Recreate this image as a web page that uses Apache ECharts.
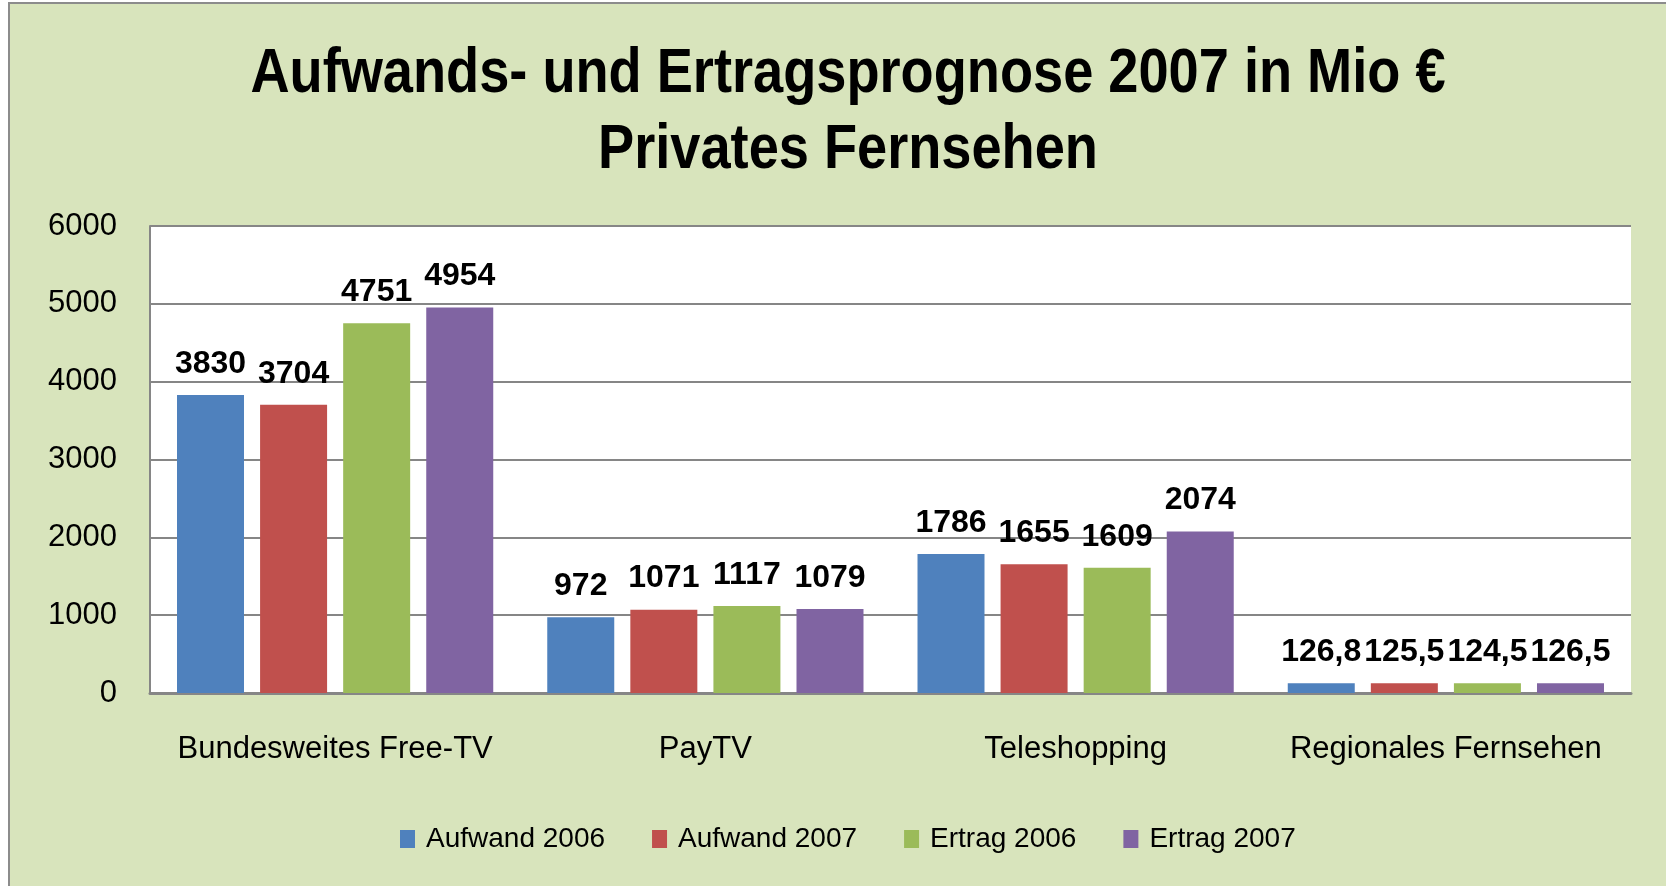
<!DOCTYPE html>
<html>
<head>
<meta charset="utf-8">
<title>Aufwands- und Ertragsprognose 2007</title>
<script src="https://cdn.jsdelivr.net/npm/echarts@6/dist/echarts.min.js"></script>
<style>
  html, body { margin: 0; padding: 0; background: #fff; }
  #chart { width: 1666px; height: 886px; }
</style>
</head>
<body>
<div id="chart"></div>
<script>
// Daten
var categories = ['Bundesweites Free-TV', 'PayTV', 'Teleshopping', 'Regionales Fernsehen'];
var seriesNames = ['Aufwand 2006', 'Aufwand 2007', 'Ertrag 2006', 'Ertrag 2007'];
var aufwand2006 = [3830, 972, 1786, 126.8];
var aufwand2007 = [3704, 1071, 1655, 125.5];
var ertrag2006 = [4751, 1117, 1609, 124.5];
var ertrag2007 = [4954, 1079, 2074, 126.5];
var yTicks = [0, 1000, 2000, 3000, 4000, 5000, 6000];

var colors = ['#4F81BD', '#C0504D', '#9BBB59', '#8064A2'];
var font = '"Liberation Sans", Arial, sans-serif';

var chart = echarts.init(document.getElementById('chart'));

function makeSeries(name, data) {
  return {
    name: name,
    type: 'bar',
    data: data,
    barWidth: 67,
    barGap: '24%',
    label: {
      show: true,
      position: 'top',
      distance: 15,
      color: '#000',
      fontFamily: font,
      fontWeight: 'bold',
      fontSize: 32,
      formatter: function (p) {
        return String(p.value).replace('.', ',');
      }
    }
  };
}

var option = {
  backgroundColor: '#ffffff',
  color: colors,
  animation: false,
  graphic: [
    {
      type: 'rect',
      z: -10,
      shape: { x: 9, y: 3, width: 1700, height: 900 },
      style: { fill: '#D8E4BC', stroke: '#8C8C8C', lineWidth: 2 }
    },
    {
      type: 'text',
      z: 10,
      x: 848,
      y: 113,
      scaleX: 0.86,
      style: {
        text: 'Aufwands- und Ertragsprognose 2007 in Mio €\nPrivates Fernsehen',
        fill: '#000',
        fontFamily: font,
        fontWeight: 'bold',
        fontSize: 63,
        lineHeight: 76,
        align: 'center',
        verticalAlign: 'middle',
        textAlign: 'center',
        textVerticalAlign: 'middle'
      }
    }
  ],
  legend: {
    data: seriesNames,
    left: 395,
    top: 820,
    itemWidth: 15,
    itemHeight: 18,
    itemGap: 47,
    icon: 'rect',
    textStyle: {
      color: '#000',
      fontFamily: font,
      fontSize: 28,
      padding: [0, 0, 0, 6]
    }
  },
  grid: {
    show: true,
    left: 150,
    right: 35,
    top: 226,
    bottom: 193,
    backgroundColor: '#ffffff',
    borderWidth: 0
  },
  xAxis: {
    type: 'category',
    data: categories,
    axisTick: { show: false },
    axisLine: { lineStyle: { color: '#868686', width: 3 } },
    axisLabel: {
      interval: 0,
      margin: 41,
      color: '#000',
      fontFamily: font,
      fontSize: 31
    }
  },
  yAxis: {
    type: 'value',
    min: yTicks[0],
    max: yTicks[yTicks.length - 1],
    interval: 1000,
    axisTick: { show: false },
    axisLine: { show: true, lineStyle: { color: '#868686', width: 2 } },
    splitLine: { lineStyle: { color: '#868686', width: 2 } },
    axisLabel: {
      margin: 33,
      color: '#000',
      fontFamily: font,
      fontSize: 31,
      padding: [9, 0, 0, 0],
      formatter: function (v) { return String(v); }
    }
  },
  series: [
    makeSeries(seriesNames[0], aufwand2006),
    makeSeries(seriesNames[1], aufwand2007),
    makeSeries(seriesNames[2], ertrag2006),
    makeSeries(seriesNames[3], ertrag2007)
  ]
};

chart.setOption(option);
</script>
</body>
</html>
